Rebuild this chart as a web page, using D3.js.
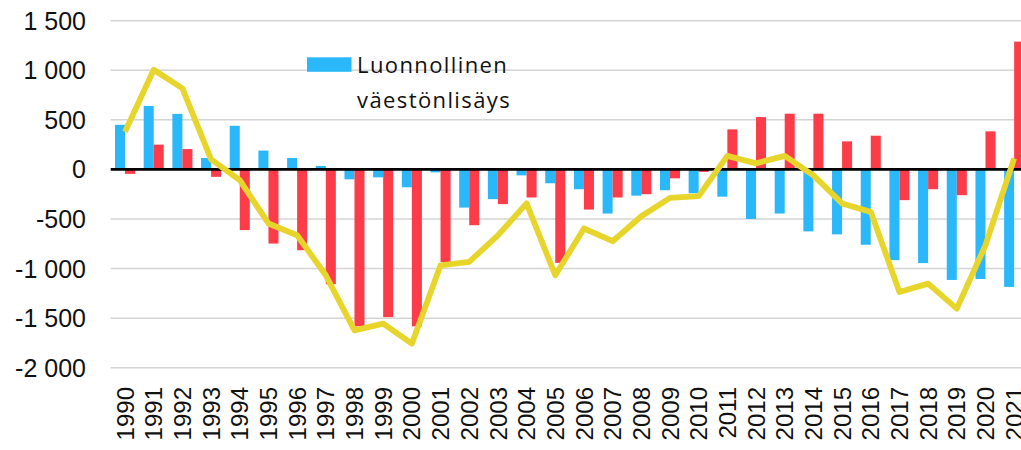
<!DOCTYPE html>
<html>
<head>
  <meta charset="utf-8">
  <title></title>
  <script src="https://d3js.org/d3.v7.min.js"></script>
</head>
<style media="screen">
  body {
    margin: 0;
    background: white;
    overflow: hidden;
  }
  .grid line {
    stroke: #d4d4d4;
    stroke-width: 1.5px;
  }
  .ylabels text {
    font-family: "Liberation Sans", Arial, sans-serif;
    font-size: 25px;
    fill: #111;
  }
  .xlabels text {
    font-family: "Liberation Sans", Arial, sans-serif;
    font-size: 24px;
    fill: #111;
  }
  .legend text {
    font-family: "Open Sans", sans-serif;
    font-size: 22px;
    letter-spacing: 1.4px;
    fill: #111;
  }
</style>
<body>
  <svg id="chart" width="1021" height="450"></svg>
  <script>
    // data
    var years = d3.range(1990, 2022)
    var natural = [450, 640, 560, 115, 440, 190, 115, 35, -100, -80, -180, -30, -385, -300, -60, -140,
      -200, -445, -265, -210, -240, -275, -500, -445, -625, -655, -760, -915, -945, -1115, -1105, -1185]
    var migration = [-45, 250, 205, -75, -612, -748, -815, -1158, -1583, -1490, -1583, -935, -563, -350, -283, -943,
      -405, -283, -250, -90, -25, 404, 528, 562, 562, 283, 340, -310, -200, -260, 384, 1289]
    var total = [380, 1005, 818, 101, -108, -545, -664, -1068, -1623, -1556, -1758, -967, -933, -665, -343, -1068,
      -596, -724, -472, -287, -270, 137, 61, 137, -60, -343, -428, -1236, -1152, -1404, -765, 111]
    var yTicks = [-2000, -1500, -1000, -500, 0, 500, 1000, 1500]
    var seriesKeys = ["natural", "migration"]
    var colors = { natural: "#2bb8fb", migration: "#fd3c49", total: "#e8d52c" }

    var svg = d3.select("#chart")

    var x0 = d3.scaleBand()
      .domain(years)
      .range([110.7, 1028.5])
      .padding(0)

    var x1 = d3.scaleBand()
      .domain(seriesKeys)
      .range([0, x0.bandwidth()])
      .paddingInner(0)
      .paddingOuter(0.43)

    var y = d3.scaleLinear()
      .domain([-2000, 1500])
      .range([367.7, 20.7])

    var fmt = d3.formatLocale({ decimal: ",", thousands: " ", grouping: [3], currency: ["", ""], minus: "-" }).format(",d")

    // gridlines
    svg.append("g").attr("class", "grid")
      .selectAll("line")
      .data(yTicks.filter(d => d != 0))
      .enter().append("line")
      .attr("x1", 110.7)
      .attr("x2", 1021)
      .attr("y1", d => y(d))
      .attr("y2", d => y(d))

    svg.append("g").attr("class", "ylabels")
      .selectAll("text")
      .data(yTicks)
      .enter().append("text")
      .attr("x", 86)
      .attr("y", d => y(d))
      .attr("dy", "0.36em")
      .attr("text-anchor", "end")
      .text(d => fmt(d))

    var rows = years.map((yr, i) => ({ year: yr, natural: natural[i], migration: migration[i], total: total[i] }))

    // bars
    var groups = svg.append("g").attr("class", "bars")
      .selectAll("g")
      .data(rows)
      .enter().append("g")
      .attr("transform", d => "translate(" + x0(d.year) + ",0)")

    groups.selectAll("rect")
      .data(d => seriesKeys.map(k => ({ key: k, value: d[k] })))
      .enter().append("rect")
      .attr("x", d => x1(d.key))
      .attr("width", x1.bandwidth())
      .attr("y", d => y(Math.max(0, d.value)))
      .attr("height", d => Math.abs(y(d.value) - y(0)))
      .style("fill", d => colors[d.key])

    // zero line
    svg.append("line")
      .attr("x1", 110.7)
      .attr("x2", 1021)
      .attr("y1", y(0))
      .attr("y2", y(0))
      .style("stroke", "black")
      .style("stroke-width", 2.8)

    // total change line
    var line = d3.line()
      .x(d => x0(d.year) + x0.bandwidth() / 2)
      .y(d => y(d.total))

    svg.append("path")
      .datum(rows)
      .attr("d", line)
      .style("fill", "none")
      .style("stroke", colors.total)
      .style("stroke-width", 5.8)
      .style("stroke-linejoin", "round")

    // x labels
    svg.append("g").attr("class", "xlabels")
      .selectAll("text")
      .data(years)
      .enter().append("text")
      .attr("transform", d => "translate(" + (x0(d) + x0.bandwidth() / 2) + ",387) rotate(-90)")
      .attr("dy", "0.36em")
      .attr("text-anchor", "end")
      .text(d => d)

    // legend (only the first entry is in view)
    var legend = svg.append("g").attr("class", "legend")
    legend.append("rect")
      .attr("x", 307)
      .attr("y", 57.3)
      .attr("width", 44.5)
      .attr("height", 14.5)
      .style("fill", colors.natural)
    legend.append("text")
      .attr("x", 357)
      .attr("y", 72.5)
      .text("Luonnollinen")
    legend.append("text")
      .attr("x", 357)
      .attr("y", 108)
      .text("väestönlisäys")
  </script>
</body>
</html>
